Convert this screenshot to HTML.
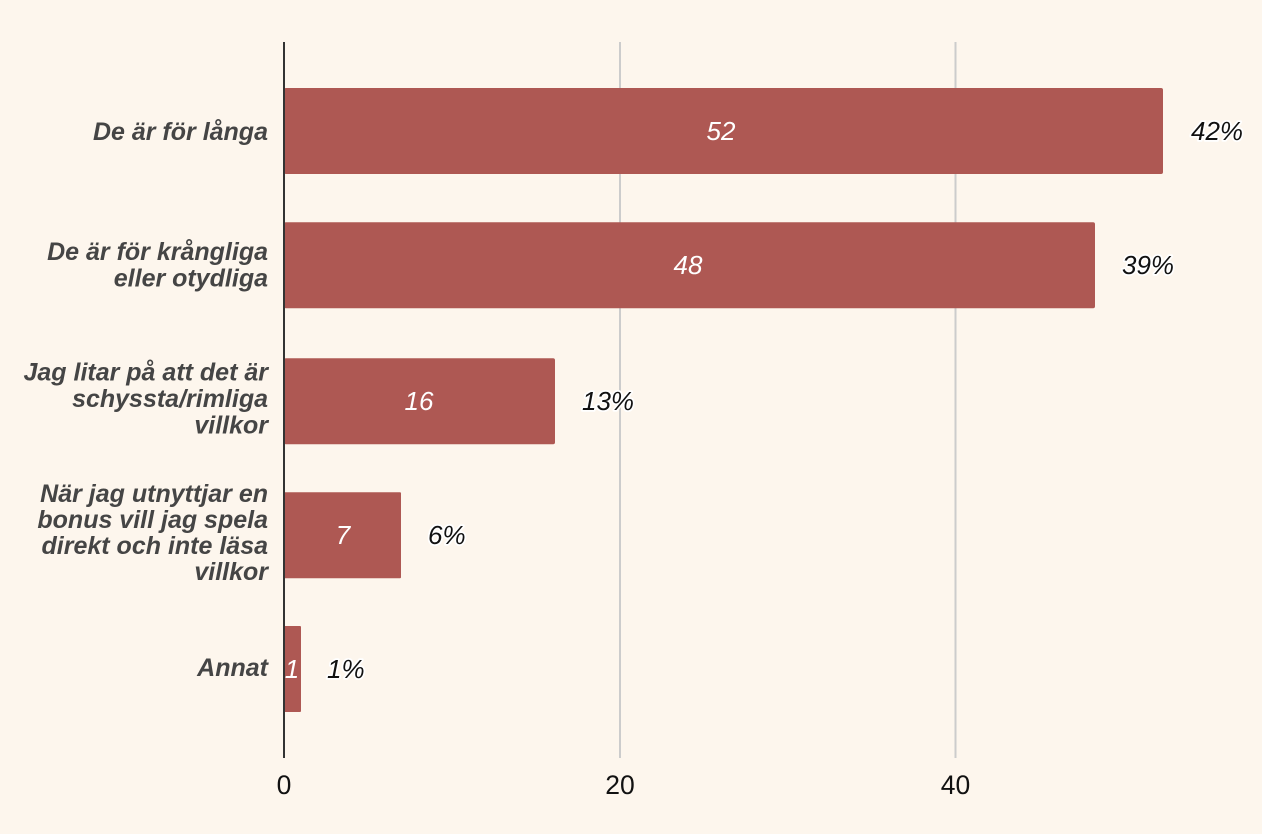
<!DOCTYPE html>
<html>
<head>
<meta charset="utf-8">
<style>
  html,body{margin:0;padding:0;background:#fdf6ed;}
  svg{display:block;}
  .cat{font-family:"Liberation Sans",sans-serif;font-weight:bold;font-style:italic;font-size:25px;fill:#454545;}
  .val{font-family:"Liberation Sans",sans-serif;font-style:italic;font-size:26px;fill:#ffffff;}
  .pct{font-family:"Liberation Sans",sans-serif;font-style:italic;font-size:26px;fill:#111;stroke:#ffffff;stroke-width:3.5px;paint-order:stroke;stroke-linejoin:round;}
  .tick{font-family:"Liberation Sans",sans-serif;font-size:26.5px;fill:#111;}
</style>
</head>
<body>
<svg width="1262" height="834" viewBox="0 0 1262 834" xmlns="http://www.w3.org/2000/svg">
  <rect x="0" y="0" width="1262" height="834" fill="#fdf6ed"/>
  <!-- gridlines -->
  <line x1="620" y1="42" x2="620" y2="758" stroke="#cccccc" stroke-width="2"/>
  <line x1="955.5" y1="42" x2="955.5" y2="758" stroke="#cccccc" stroke-width="2"/>

  <!-- bars -->
  <g fill="#ae5853">
    <rect x="284" y="88" width="879" height="86" rx="2"/>
    <rect x="284" y="222.3" width="811" height="86" rx="2"/>
    <rect x="284" y="358.3" width="271" height="86" rx="2"/>
    <rect x="284" y="492.3" width="117" height="86" rx="1"/>
    <rect x="284" y="626" width="17" height="86" rx="1"/>
  </g>

  <!-- axis -->
  <line x1="284" y1="42" x2="284" y2="758" stroke="#333333" stroke-width="2"/>

  <!-- category labels -->
  <g class="cat" text-anchor="end">
    <text x="268" y="140">De är för långa</text>
    <text x="268" y="260">De är för krångliga</text>
    <text x="268" y="286.5">eller otydliga</text>
    <text x="268" y="380.5">Jag litar på att det är</text>
    <text x="268" y="407">schyssta/rimliga</text>
    <text x="268" y="433.5">villkor</text>
    <text x="268" y="502">När jag utnyttjar en</text>
    <text x="268" y="528">bonus vill jag spela</text>
    <text x="268" y="554">direkt och inte läsa</text>
    <text x="268" y="580">villkor</text>
    <text x="268" y="676">Annat</text>
  </g>

  <!-- value labels -->
  <g class="val" text-anchor="middle">
    <text x="721" y="140">52</text>
    <text x="688" y="274">48</text>
    <text x="419" y="410">16</text>
    <text x="343" y="544">7</text>
    <text x="292" y="678">1</text>
  </g>

  <!-- percent labels -->
  <g class="pct" text-anchor="start">
    <text x="1191" y="140">42%</text>
    <text x="1122" y="274">39%</text>
    <text x="582" y="410">13%</text>
    <text x="428" y="544">6%</text>
    <text x="327" y="678">1%</text>
  </g>

  <!-- ticks -->
  <g class="tick" text-anchor="middle">
    <text x="284" y="794">0</text>
    <text x="620" y="794">20</text>
    <text x="955.5" y="794">40</text>
  </g>
</svg>
</body>
</html>
